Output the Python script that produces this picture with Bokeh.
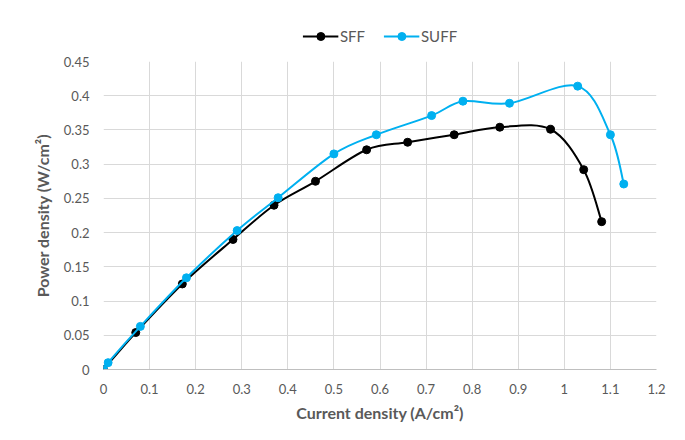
from bokeh.plotting import figure
from bokeh.layouts import column
from bokeh.models import FixedTicker, CustomJSTickFormatter, Range1d, Legend, LegendItem
from bokeh.embed import file_html
from bokeh.resources import INLINE

# Data
sff_x = [0.0, 0.07, 0.171, 0.281, 0.37, 0.46, 0.571, 0.66, 0.761, 0.86, 0.97, 1.042, 1.081]
sff_y = [0.0, 0.054, 0.125, 0.19, 0.24, 0.275, 0.321, 0.332, 0.343, 0.354, 0.351, 0.292, 0.216]
suff_x = [0.0, 0.01, 0.08, 0.18, 0.29, 0.379, 0.5, 0.592, 0.712, 0.78, 0.881, 1.029, 1.1, 1.129]
suff_y = [0.0, 0.01, 0.063, 0.134, 0.203, 0.251, 0.315, 0.343, 0.371, 0.392, 0.389, 0.414, 0.343, 0.271]
x_ticks = [0, 0.1, 0.2, 0.3, 0.4, 0.5, 0.6, 0.7, 0.8, 0.9, 1.0, 1.1, 1.2]
y_ticks = [0, 0.05, 0.1, 0.15, 0.2, 0.25, 0.3, 0.35, 0.4, 0.45]
series_names = ["SFF", "SUFF"]
series_colors = ["#000000", "#00B0F0"]

FONT = "Lato"
GRAY = "#595959"


def smooth_segments(xs, ys):
    """Catmull-Rom style Bezier control points (Excel-like smoothing)."""
    n = len(xs)
    out = dict(x0=[], y0=[], x1=[], y1=[], cx0=[], cy0=[], cx1=[], cy1=[])
    for i in range(n - 1):
        ip = max(i - 1, 0)
        inn = min(i + 2, n - 1)
        out["x0"].append(xs[i]); out["y0"].append(ys[i])
        out["x1"].append(xs[i + 1]); out["y1"].append(ys[i + 1])
        out["cx0"].append(xs[i] + (xs[i + 1] - xs[ip]) / 6.0)
        out["cy0"].append(ys[i] + (ys[i + 1] - ys[ip]) / 6.0)
        out["cx1"].append(xs[i + 1] - (xs[inn] - xs[i]) / 6.0)
        out["cy1"].append(ys[i + 1] - (ys[inn] - ys[i]) / 6.0)
    return out


LEG_H = 50
TOTAL_W = 684
TOTAL_H = 439

# ---- legend strip (separate figure above the chart; its ranges keep the data out of view) ----
lg = figure(width=TOTAL_W, height=LEG_H, output_backend="svg", toolbar_location=None,
            x_axis_type=None, y_axis_type=None,
            min_border_left=26, min_border_right=0, min_border_top=0, min_border_bottom=0,
            x_range=Range1d(10, 11), y_range=Range1d(10, 11))
lg.outline_line_color = None
lg.grid.visible = False
lg.border_fill_color = "white"
lg.background_fill_color = "white"

# ---- main chart ----
p = figure(width=TOTAL_W, height=TOTAL_H - LEG_H, output_backend="svg", toolbar_location=None,
           x_range=Range1d(0, 1.2), y_range=Range1d(0, 0.45),
           min_border_left=103, min_border_right=28, min_border_top=11, min_border_bottom=70)

p.outline_line_color = None
p.background_fill_color = "white"
p.border_fill_color = "white"

for ax in (p.xaxis[0], p.yaxis[0]):
    ax.major_tick_line_color = None
    ax.minor_tick_line_color = None
    ax.major_label_text_font = FONT
    ax.major_label_text_font_size = "13px"
    ax.major_label_text_color = GRAY
    ax.axis_label_text_font = FONT
    ax.axis_label_text_font_size = "16px"
    ax.axis_label_text_font_style = "bold"
    ax.axis_label_text_color = GRAY

fmt = CustomJSTickFormatter(code="return tick.toFixed(2).replace(/\\.?0+$/, '');")
p.xaxis.ticker = FixedTicker(ticks=x_ticks)
p.yaxis.ticker = FixedTicker(ticks=y_ticks)
p.xaxis.formatter = fmt
p.yaxis.formatter = fmt
p.xaxis.axis_label = "Current density (A/cm²)"
p.yaxis.axis_label = "Power density (W/cm²)"
p.xaxis.axis_line_color = "#bfbfbf"
p.yaxis.axis_line_color = None
p.xaxis.major_label_standoff = 8
p.yaxis.major_label_standoff = 8
p.xaxis.axis_label_standoff = 6
p.yaxis.axis_label_standoff = 9

p.xgrid.ticker = FixedTicker(ticks=x_ticks)
p.ygrid.ticker = FixedTicker(ticks=y_ticks)
p.xgrid.grid_line_color = "#d9d9d9"
p.ygrid.grid_line_color = "#d9d9d9"

leg_items = []
for xs, ys, name, col in [(sff_x, sff_y, series_names[0], series_colors[0]),
                          (suff_x, suff_y, series_names[1], series_colors[1])]:
    seg = smooth_segments(xs, ys)
    p.bezier(x0=seg["x0"], y0=seg["y0"], x1=seg["x1"], y1=seg["y1"],
             cx0=seg["cx0"], cy0=seg["cy0"], cx1=seg["cx1"], cy1=seg["cy1"],
             line_color=col, line_width=2)
    p.scatter(xs, ys, size=8, fill_color=col, line_color=col)
    # legend proxies in the legend strip (same series, outside that strip's view)
    ll = lg.line(xs, ys, line_color=col, line_width=2)
    lc = lg.scatter(xs, ys, size=8, fill_color=col, line_color=col)
    leg_items.append(LegendItem(label=name, renderers=[ll, lc]))

legend = Legend(items=leg_items, orientation="horizontal", location="bottom_center",
                label_text_font=FONT, label_text_font_size="15px", label_text_color=GRAY,
                border_line_color=None, background_fill_alpha=0, glyph_width=36,
                spacing=18, padding=4, label_standoff=2, margin=4)
lg.add_layout(legend, "center")

layout = column(lg, p, spacing=0)
open("out.html", "w").write(file_html(layout, INLINE))
